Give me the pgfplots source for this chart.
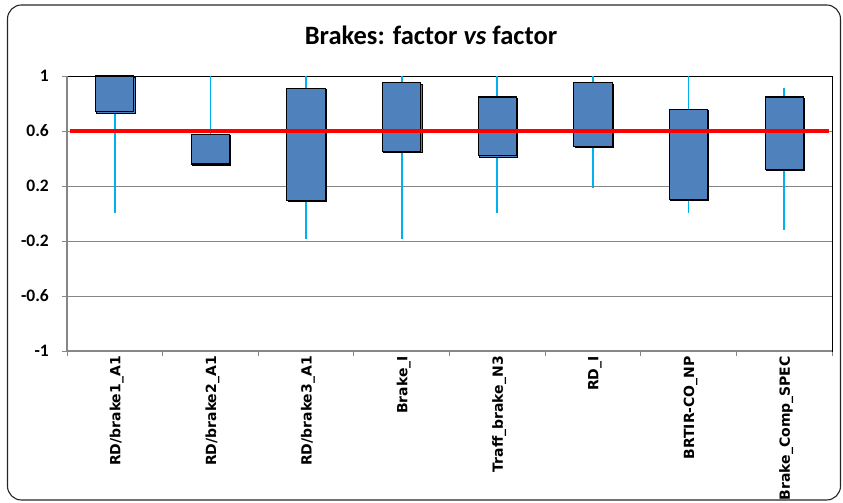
\documentclass[border=0pt]{standalone}
\usepackage{fontspec}
\setmainfont{Carlito}
\newfontfamily\verd{DejaVu Sans}[BoldFont={DejaVu Sans Bold}]
\usepackage{pgfplots}
\pgfplotsset{compat=1.18}
\usepgfplotslibrary{statistics}
\usetikzlibrary{shadows}
\definecolor{boxblue}{HTML}{4F81BD}
\definecolor{whisk}{HTML}{00B0F0}
\definecolor{gridg}{HTML}{868686}
\newcommand{\xlab}[1]{{\verd\bfseries\fontsize{14}{16}\selectfont #1}}
\begin{document}
\begin{tikzpicture}[x=1pt,y=1pt]
\useasboundingbox (0,0) rectangle (843,503);
\draw[line width=1.1pt, black!85, rounded corners=14pt] (7.5,3) rectangle (840.5,498);
\node[font=\fontsize{26.5}{29}\selectfont\bfseries, anchor=base] at (431,458) {Brakes: factor \textit{vs} factor};
\begin{axis}[
  at={(67pt,152pt)}, anchor=south west,
  scale only axis, width=765pt, height=275pt,
  xmin=0.5, xmax=8.5, ymin=-1, ymax=1,
  axis line style={black, line width=0.9pt},
  xtick={1,...,8},
  xticklabels={\xlab{RD/brake1\_A1},\xlab{RD/brake2\_A1},\xlab{RD/brake3\_A1},\xlab{Brake\_I},\xlab{Traff\_brake\_N3},\xlab{RD\_I},\xlab{BRTIR-CO\_NP},\xlab{Brake\_Comp\_SPEC}},
  minor xtick={0.5,1.5,...,8.5},
  major x tick style={draw=none},
  minor x tick style={gridg, line width=0.9pt},
  minor tick length=5pt,
  xtick pos=bottom, ytick pos=left,
  tick align=outside,
  ytick={-1,-0.6,-0.2,0.2,0.6,1},
  yticklabels={-1,-0.6,-0.2,0.2,0.6,1},
  major tick length=5pt,
  y tick style={gridg, line width=0.9pt},
  ymajorgrids,
  major grid style={gridg, line width=0.9pt},
  xticklabel style={rotate=90, anchor=east, inner sep=0pt, yshift=-2pt},
  yticklabel style={inner sep=0pt, xshift=-13pt, font=\bfseries\fontsize{17.5}{19}\selectfont},
  clip=false,
  boxplot/draw direction=y,
  boxplot/box extend=0.4,
  boxplot/whisker extend=0,
  boxplot/every box/.style={draw=black, fill=boxblue, line width=1.1pt,
    drop shadow={shadow xshift=1pt, shadow yshift=-1pt, fill=boxblue, opacity=1}},
  boxplot/every whisker/.style={draw=whisk, line width=1.8pt},
  boxplot/every median/.style={draw=none},
]
\addplot[boxplot prepared={draw position=1, lower whisker=0.0, lower quartile=0.74, median=0.74, upper quartile=1.0, upper whisker=1.0}] coordinates {};
\addplot[boxplot prepared={draw position=2, lower whisker=0.36, lower quartile=0.36, median=0.36, upper quartile=0.576, upper whisker=1.0}] coordinates {};
\addplot[boxplot prepared={draw position=3, lower whisker=-0.185, lower quartile=0.096, median=0.096, upper quartile=0.908, upper whisker=1.0}] coordinates {};
\addplot[boxplot prepared={draw position=4, lower whisker=-0.185, lower quartile=0.45, median=0.45, upper quartile=0.95, upper whisker=1.0}] coordinates {};
\addplot[boxplot prepared={draw position=5, lower whisker=0.0, lower quartile=0.42, median=0.42, upper quartile=0.847, upper whisker=1.0}] coordinates {};
\addplot[boxplot prepared={draw position=6, lower whisker=0.188, lower quartile=0.486, median=0.486, upper quartile=0.95, upper whisker=1.0}] coordinates {};
\addplot[boxplot prepared={draw position=7, lower whisker=0.0, lower quartile=0.105, median=0.105, upper quartile=0.755, upper whisker=1.0}] coordinates {};
\addplot[boxplot prepared={draw position=8, lower whisker=-0.118, lower quartile=0.32, median=0.32, upper quartile=0.847, upper whisker=0.915}] coordinates {};
\addplot[red, line width=4.5pt, forget plot] coordinates {(0.53,0.6) (8.47,0.6)};
\draw[gridg, line width=1.4pt] (rel axis cs:0,0) -- (rel axis cs:0,1);
\draw[gridg, line width=1.4pt] (rel axis cs:0,0) -- (rel axis cs:1,0);
\end{axis}
\end{tikzpicture}
\end{document}
